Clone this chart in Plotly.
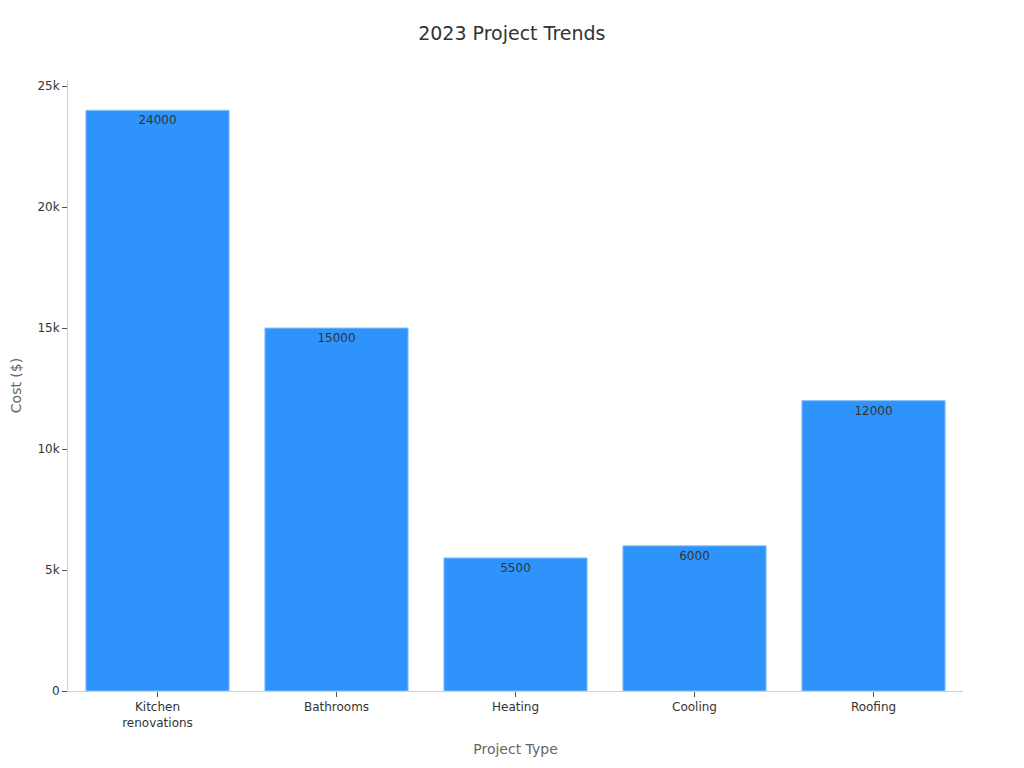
import plotly.graph_objects as go

categories = ["Kitchen<br>renovations", "Bathrooms", "Heating", "Cooling", "Roofing"]
costs = [24000, 15000, 5500, 6000, 12000]

fig = go.Figure(go.Bar(
    x=categories, y=costs,
    text=[str(v) for v in costs],
    textposition="inside", insidetextanchor="end",
    textfont=dict(color="#333333", size=12),
    marker=dict(color="#2E93FA", line=dict(color="#8CC4FB", width=1)),
))
fig.update_layout(
    width=1024, height=768,
    font=dict(family="DejaVu Sans", size=12, color="#333333"),
    title=dict(text="2023 Project Trends", x=0.492, xanchor="center", y=0.976, font=dict(size=19, color="#333333")),
    plot_bgcolor="white", paper_bgcolor="white",
    margin=dict(l=60, r=69, t=72, b=85, autoexpand=False),
    bargap=0.2,
    showlegend=False,
    xaxis=dict(title=dict(text="Project Type", font=dict(size=14, color="#666666")),
               showline=True, linecolor="#d0d0d0", ticks="outside", ticklen=5, tickcolor="#555555",
               automargin=False, tickfont=dict(size=12, color="#333333")),
    yaxis=dict(title=dict(text="Cost ($)", font=dict(size=14, color="#666666")),
               showline=True, linecolor="#d0d0d0", ticks="outside", ticklen=5, tickcolor="#555555",
               automargin=False,
               showgrid=False, zeroline=False, range=[0, 25250], dtick=5000, tickformat="~s",
               tickfont=dict(size=12, color="#333333")),
)
fig.write_html("out.html")
